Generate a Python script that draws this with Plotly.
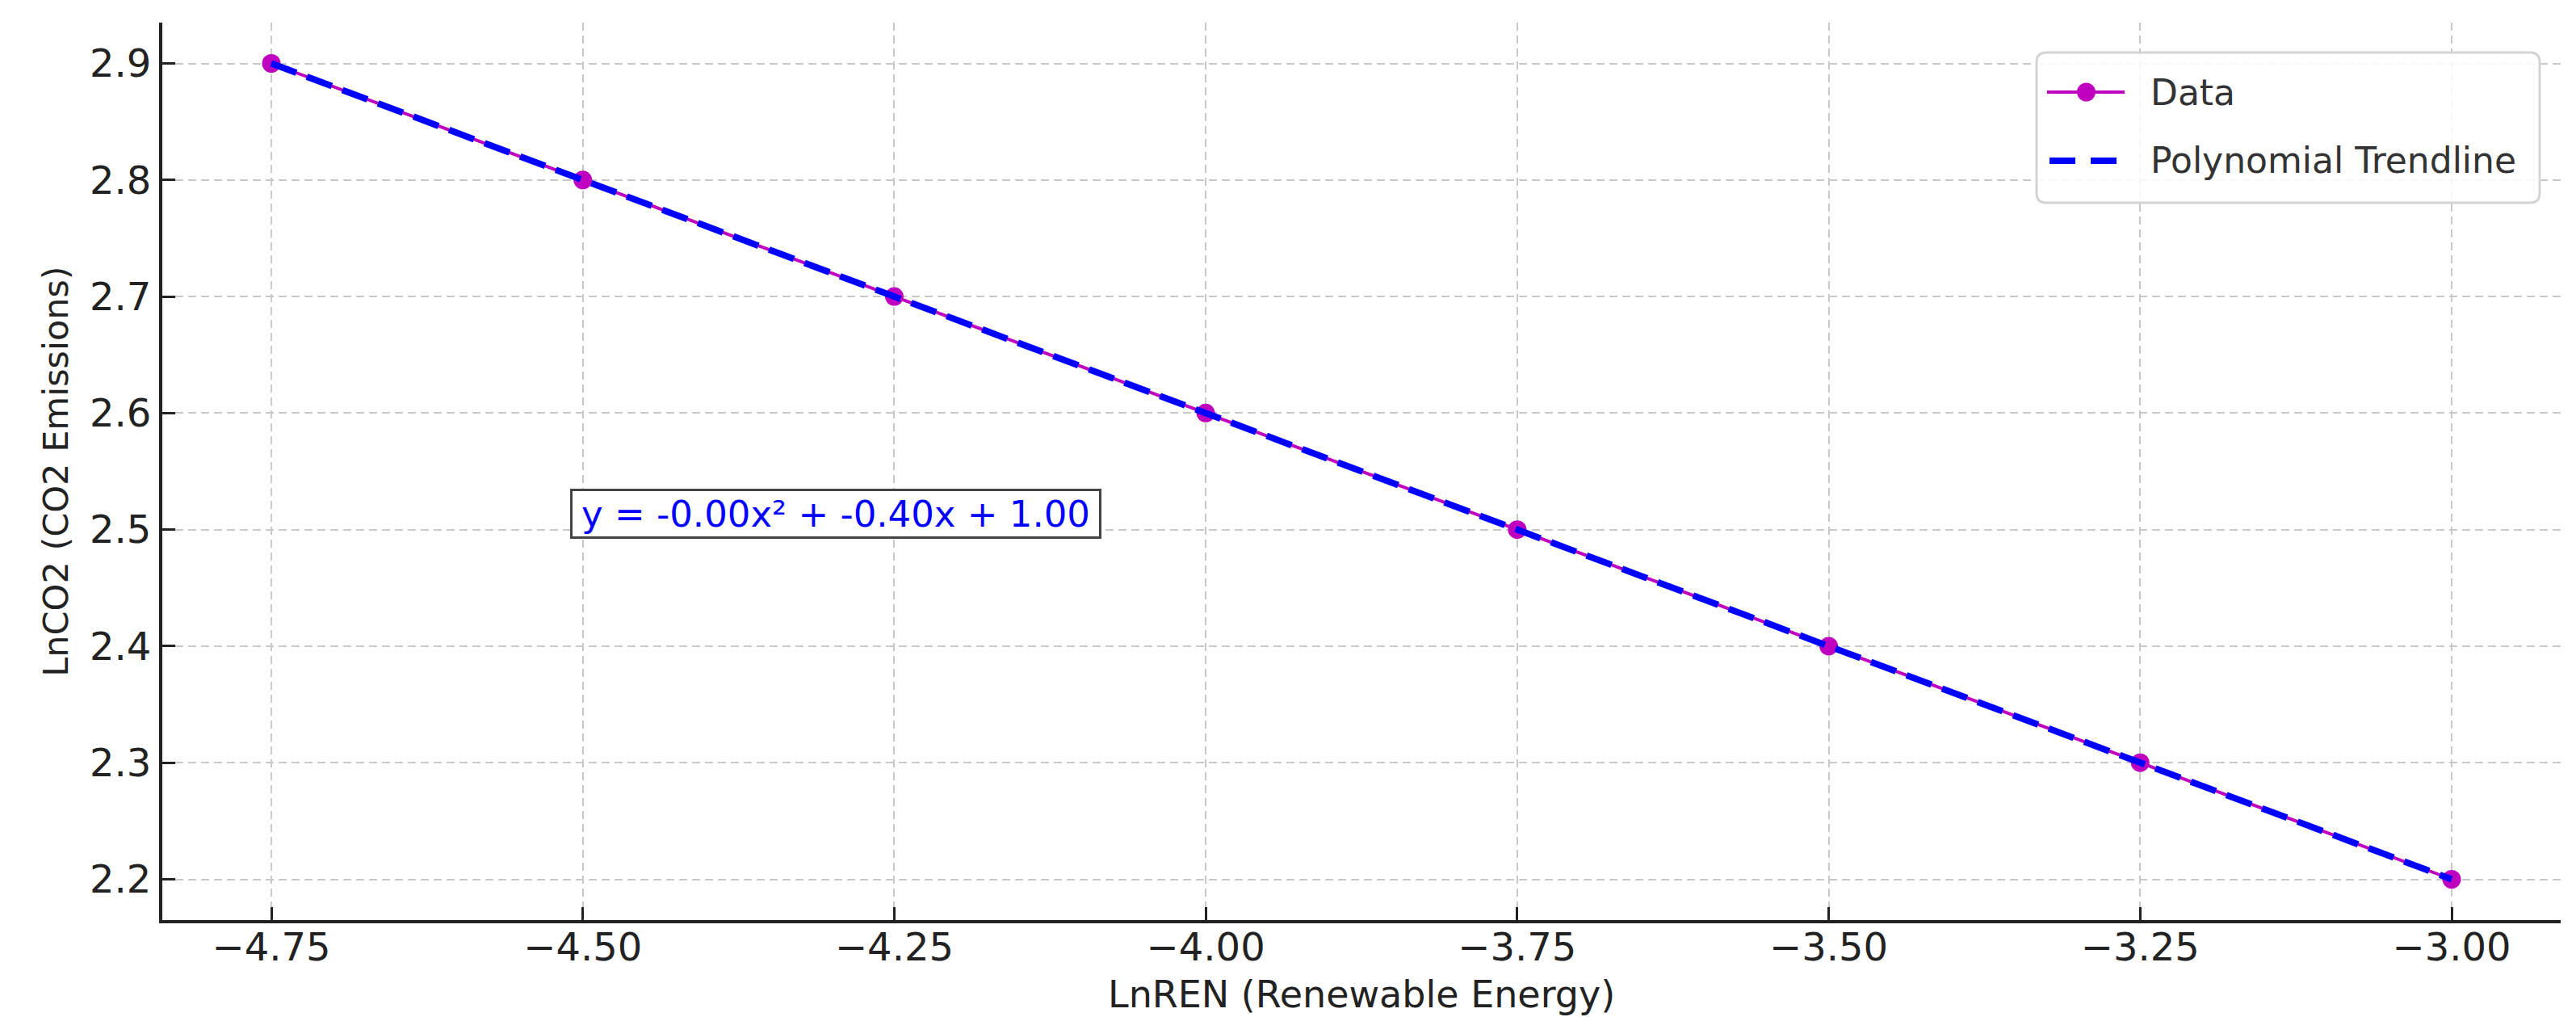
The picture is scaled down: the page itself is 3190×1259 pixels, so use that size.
import plotly.graph_objects as go

# data
ln_ren = [-4.75, -4.50, -4.25, -4.00, -3.75, -3.50, -3.25, -3.00]
ln_co2 = [2.9, 2.8, 2.7, 2.6, 2.5, 2.4, 2.3, 2.2]
trend_y = [2.9, 2.8, 2.7, 2.6, 2.5, 2.4, 2.3, 2.2]

x_ticks = [-4.75, -4.50, -4.25, -4.00, -3.75, -3.50, -3.25, -3.00]
x_ticktext = ["−4.75", "−4.50", "−4.25", "−4.00", "−3.75", "−3.50", "−3.25", "−3.00"]
y_ticks = [2.2, 2.3, 2.4, 2.5, 2.6, 2.7, 2.8, 2.9]

series_names = ["Data", "Polynomial Trendline"]
x_title = "LnREN (Renewable Energy)"
y_title = "LnCO2 (CO2 Emissions)"
eq_text = "y = -0.00x² + -0.40x + 1.00"

FONT = "DejaVu Sans"
MAGENTA = "#BF00BF"
BLUE = "#0000FF"
INK = "#222222"

# plot area in page pixels
PL, PR, PT, PB = 193, 3163, 20, 1131


def px(x):
    return (x - PL) / (PR - PL)


def py(y):
    return (PB - y) / (PB - PT)


fig = go.Figure()

fig.add_trace(go.Scatter(
    x=ln_ren, y=ln_co2, name=series_names[0], mode="lines+markers",
    line=dict(color=MAGENTA, width=4),
    marker=dict(color=MAGENTA, size=23),
    showlegend=False,
))
fig.add_trace(go.Scatter(
    x=ln_ren, y=trend_y, name=series_names[1], mode="lines",
    line=dict(color=BLUE, width=8, dash="33px,14px"),
    showlegend=False,
))

# equation box
fig.add_annotation(
    x=-4.5, y=2.5, xref="x", yref="y", text=eq_text, showarrow=False,
    xanchor="left", yanchor="middle", xshift=-16, yshift=20,
    width=652, height=56, align="center", valign="middle",
    font=dict(family=FONT, size=45, color=BLUE),
    bgcolor="white", bordercolor="#444444", borderwidth=3, borderpad=0,
)

# x axis title placed by hand so it sits tight under the tick labels
fig.add_annotation(
    x=0.5, y=py(1223), xref="paper", yref="paper", text=x_title,
    showarrow=False, xanchor="center", yanchor="middle",
    font=dict(family=FONT, size=46, color=INK),
)

# legend drawn by hand (matplotlib look: long handles, rounded frame)
bx0, bx1, by0, by1, rad = 2514, 3137, 57, 243, 12
frame = (
    f"M {px(bx0 + rad)},{py(by0)} L {px(bx1 - rad)},{py(by0)} "
    f"Q {px(bx1)},{py(by0)} {px(bx1)},{py(by0 + rad)} "
    f"L {px(bx1)},{py(by1 - rad)} "
    f"Q {px(bx1)},{py(by1)} {px(bx1 - rad)},{py(by1)} "
    f"L {px(bx0 + rad)},{py(by1)} "
    f"Q {px(bx0)},{py(by1)} {px(bx0)},{py(by1 - rad)} "
    f"L {px(bx0)},{py(by0 + rad)} "
    f"Q {px(bx0)},{py(by0)} {px(bx0 + rad)},{py(by0)} Z"
)
fig.add_shape(type="path", path=frame, xref="paper", yref="paper",
              fillcolor="rgba(255,255,255,0.85)", line=dict(color="#d4d4d4", width=3))
row_y = [106, 191]
fig.add_shape(type="line", xref="paper", yref="paper",
              x0=px(2527), x1=px(2623), y0=py(row_y[0]), y1=py(row_y[0]),
              line=dict(color=MAGENTA, width=4))
fig.add_shape(type="circle", xref="paper", yref="paper",
              x0=px(2564), x1=px(2587), y0=py(row_y[0] - 11.5), y1=py(row_y[0] + 11.5),
              fillcolor=MAGENTA, line=dict(color=MAGENTA, width=0))
fig.add_shape(type="line", xref="paper", yref="paper",
              x0=px(2530), x1=px(2613), y0=py(row_y[1]), y1=py(row_y[1]),
              line=dict(color=BLUE, width=8, dash="32px,19px"))
for name, ry in zip(series_names, row_y):
    fig.add_annotation(
        x=px(2659), y=py(ry), xref="paper", yref="paper", text=name,
        showarrow=False, xanchor="left", yanchor="middle", xshift=-6,
        font=dict(family=FONT, size=44, color="#333333"),
    )

grid = dict(showgrid=True, gridcolor="#c8c8c8", gridwidth=2, griddash="10px,6px")

fig.update_xaxes(
    range=[-4.8375, -2.9125], tickvals=x_ticks, ticktext=x_ticktext,
    ticks="inside", ticklen=16, tickwidth=3, tickcolor=INK,
    showline=True, linecolor=INK, linewidth=4, zeroline=False,
    tickfont=dict(family=FONT, size=48, color=INK), ticklabelstandoff=-12,
    **grid,
)
fig.update_yaxes(
    range=[2.165, 2.935], tickvals=y_ticks, tickformat=".1f",
    ticks="inside", ticklen=16, tickwidth=3, tickcolor=INK,
    showline=True, linecolor=INK, linewidth=4, zeroline=False,
    tickfont=dict(family=FONT, size=48, color=INK),
    title=dict(text=y_title, standoff=14,
               font=dict(family=FONT, size=43, color=INK)),
    **grid,
)

fig.update_layout(
    width=3190, height=1259,
    margin=dict(l=PL, r=3190 - PR, t=PT, b=1259 - PB),
    plot_bgcolor="white", paper_bgcolor="white",
    font=dict(family=FONT),
    showlegend=False,
)

fig.write_html("out.html")
